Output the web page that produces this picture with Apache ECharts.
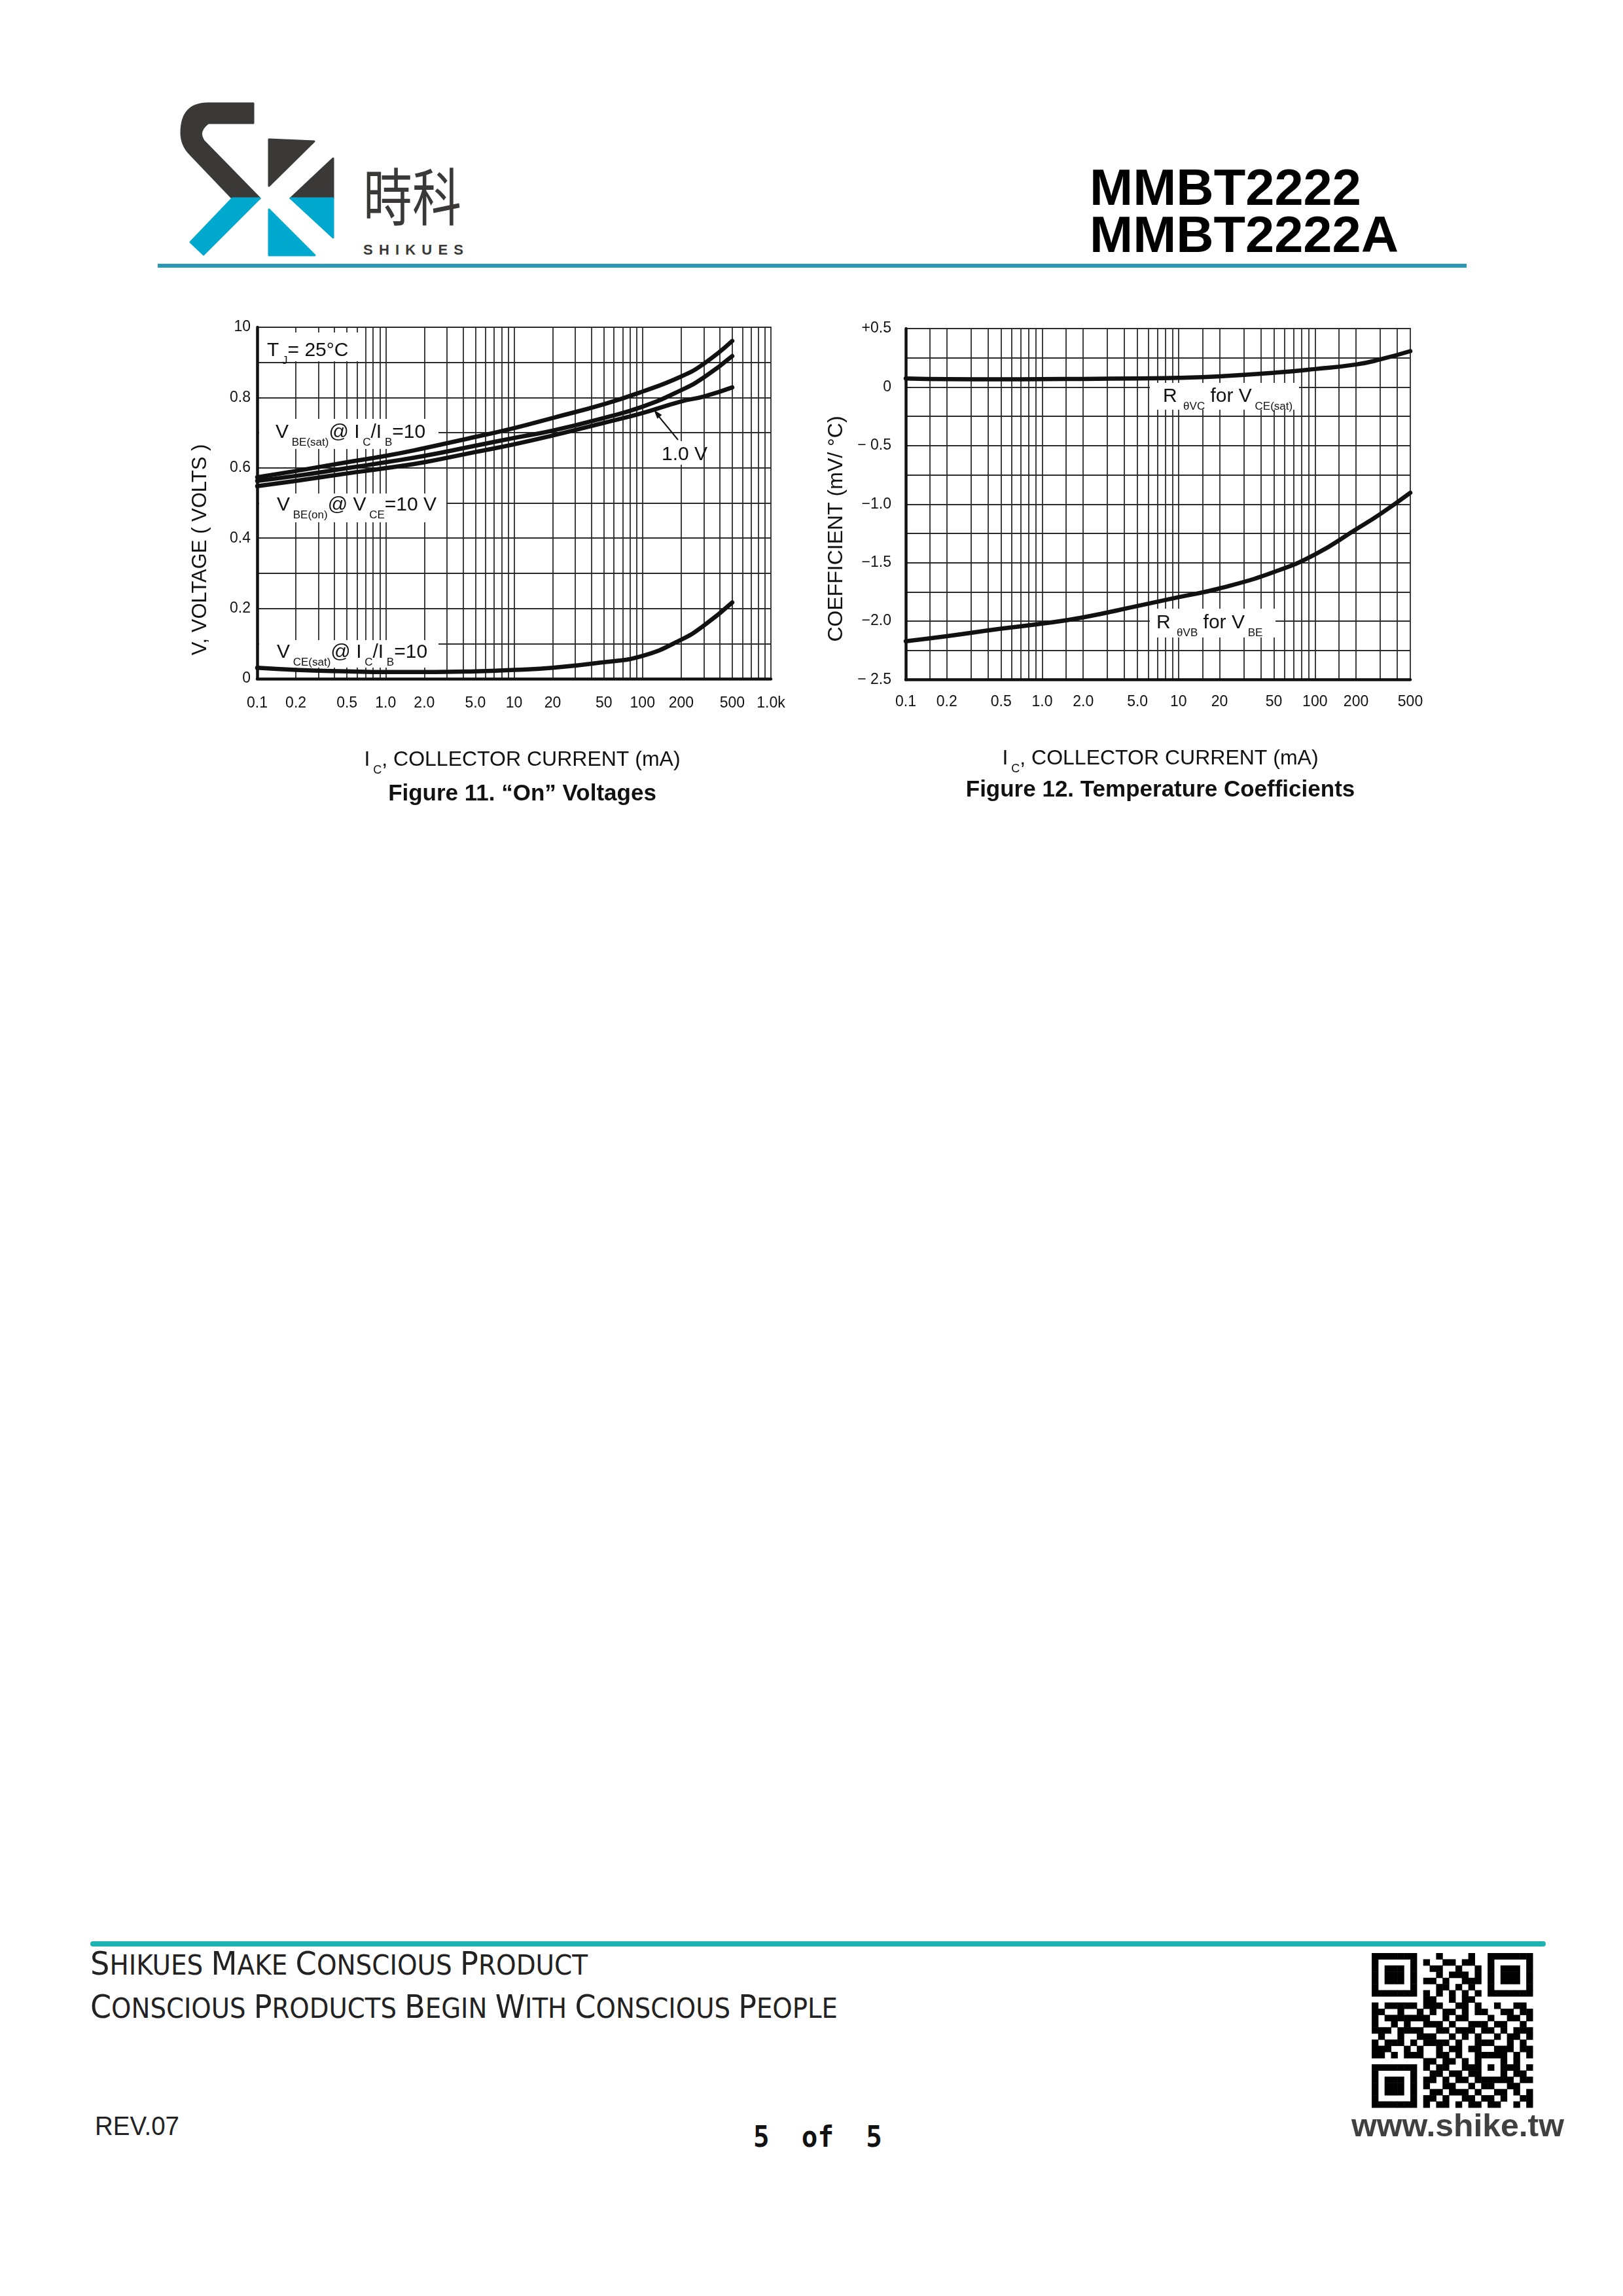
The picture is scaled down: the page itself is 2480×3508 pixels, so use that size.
<!DOCTYPE html>
<html>
<head>
<meta charset="utf-8">
<title>MMBT2222 - Figure 11 / Figure 12</title>
<script src="https://cdn.jsdelivr.net/npm/echarts@6/dist/echarts.min.js"></script>
<style>
  html, body { margin: 0; padding: 0; background: #fff; }
  #page { position: relative; width: 2480px; height: 3508px; overflow: hidden; background: #fff; }
  #deco { position: absolute; left: 0; top: 0; }
  #chart { position: absolute; left: 0; top: 0; width: 2480px; height: 3508px; }
</style>
</head>
<body>
<div id="page">
  <svg id="deco" xmlns="http://www.w3.org/2000/svg" width="2480" height="3508" viewBox="0 0 2480 3508">
    <!-- logo -->
    <g stroke-linejoin="round" stroke-width="3">
      <path d="M387,158 L318,158 Q277,158 277,203 Q277,222 291,236 L355,303 L397,303 L311,215 Q301,201 318,188 L387,188 Z" fill="#3b3838" stroke="#3b3838"/>
      <path d="M355,303 L397,303 L311,389 L291,370 Z" fill="#00a9cd" stroke="#00a9cd"/>
      <path d="M411,213 L480,216 L411,284 Z" fill="#3b3838" stroke="#3b3838"/>
      <path d="M509,242 L444,303 L509,303 Z" fill="#3b3838" stroke="#3b3838"/>
      <path d="M444,303 L509,303 L509,363 Z" fill="#00a9cd" stroke="#00a9cd"/>
      <path d="M411,320 L411,390 L481,390 Z" fill="#00a9cd" stroke="#00a9cd"/>
    </g>
    <text x="555" y="337" font-family="Noto Sans CJK TC" font-size="95" textLength="150" lengthAdjust="spacingAndGlyphs" fill="#3b3838">時科</text>
    <text x="555" y="389" font-family="Liberation Sans" font-weight="700" font-size="22" textLength="153" lengthAdjust="spacing" fill="#3b3838">SHIKUES</text>
    <text x="1665" y="313" font-family="Liberation Sans" font-weight="700" font-size="77" textLength="415" lengthAdjust="spacingAndGlyphs" fill="#000">MMBT2222</text>
    <text x="1665" y="385" font-family="Liberation Sans" font-weight="700" font-size="77" textLength="472" lengthAdjust="spacingAndGlyphs" fill="#000">MMBT2222A</text>
    <rect x="241" y="403" width="2000" height="6" fill="#2a98b8"/>

    <!-- footer -->
    <rect x="138" y="2966" width="2224" height="8" rx="4" fill="#1db3b3"/>
    <text id="motto1" x="138" y="3017" font-family="Liberation Sans Narrow, DejaVu Sans Condensed, sans-serif" textLength="760" lengthAdjust="spacingAndGlyphs" fill="#222"></text>
    <text id="motto2" x="138" y="3083" font-family="Liberation Sans Narrow, DejaVu Sans Condensed, sans-serif" textLength="1142" lengthAdjust="spacingAndGlyphs" fill="#222"></text>
    <text x="145" y="3262" font-family="Liberation Sans" font-size="41" textLength="129" lengthAdjust="spacingAndGlyphs" fill="#222">REV.07</text>
    <text x="1151" y="3280" font-family="DejaVu Sans Mono" font-weight="700" font-size="45" textLength="197" lengthAdjust="spacingAndGlyphs" fill="#111" style="white-space:pre">5  of  5</text>
    <g id="qr" fill="#000"></g>
    <text x="2065" y="3264" font-family="Liberation Sans" font-weight="700" font-size="48" textLength="325" lengthAdjust="spacingAndGlyphs" fill="#404040">www.shike.tw</text>
  </svg>
  <div id="chart"></div>
</div>
<script>
// Figure 11 - "On" voltages, Ic in mA, volts
var icOn = [0.1, 0.2, 0.5, 1, 2, 5, 10, 20, 50, 100, 200, 300, 500];
var vbeSat = [0.573, 0.591, 0.616, 0.634, 0.656, 0.688, 0.713, 0.742, 0.781, 0.817, 0.860, 0.896, 0.961];
var vbeOn1V = [0.563, 0.577, 0.599, 0.616, 0.634, 0.663, 0.685, 0.706, 0.742, 0.774, 0.821, 0.857, 0.918];
var vbeOn10V = [0.548, 0.563, 0.584, 0.599, 0.616, 0.645, 0.667, 0.692, 0.728, 0.756, 0.789, 0.803, 0.829];
var vceSat = [0.031, 0.025, 0.021, 0.019, 0.019, 0.021, 0.025, 0.031, 0.047, 0.065, 0.111, 0.151, 0.217];

// Figure 12 - temperature coefficients, mV/°C
var icTc = [0.1, 0.2, 0.5, 1, 2, 5, 10, 20, 50, 100, 200, 300, 500];
var rThetaVC = [0.074, 0.068, 0.066, 0.068, 0.070, 0.074, 0.079, 0.092, 0.122, 0.154, 0.193, 0.236, 0.307];
var rThetaVB = [-2.171, -2.128, -2.064, -2.021, -1.967, -1.870, -1.795, -1.720, -1.580, -1.430, -1.215, -1.086, -0.903];

// tick labels
var xTicks11 = [0.1, 0.2, 0.5, 1, 2, 5, 10, 20, 50, 100, 200, 500, 1000];
var xTickText11 = ['0.1', '0.2', '0.5', '1.0', '2.0', '5.0', '10', '20', '50', '100', '200', '500', '1.0k'];
var yTickText11 = ['0', '', '0.2', '', '0.4', '', '0.6', '', '0.8', '', '10'];
var xTicks12 = [0.1, 0.2, 0.5, 1, 2, 5, 10, 20, 50, 100, 200, 500];
var xTickText12 = ['0.1', '0.2', '0.5', '1.0', '2.0', '5.0', '10', '20', '50', '100', '200', '500'];
var yTickText12 = ['\u2212 2.5', '', '\u22122.0', '', '\u22121.5', '', '\u22121.0', '', '\u2212 0.5', '', '0', '', '+0.5'];

var qrRows = [
  '1111111000100001001111111',
  '1000001010011011001000001',
  '1011101001100100101011101',
  '1011101000101110101011101',
  '1011101011010011101011101',
  '1000001000110101001000001',
  '1111111010101010101111111',
  '0000000011001011000000000',
  '1011111011100110100100110',
  '1100100101011010110011011',
  '1011111110010110001001101',
  '1001010011101001110110010',
  '1110111100110111011010111',
  '0100100111001010100101101',
  '1011101011110100111001010',
  '1110010100101101100111011',
  '1101011100110100111110101',
  '0000000011011010100010100',
  '1111111010110011101011101',
  '1000001001101101100010110',
  '1011101011010110111111011',
  '1011101010011001011001100',
  '1011101001101110100110101',
  '1000001011010011011010011',
  '1111111010110101101100101'
];

// ---------- page decoration ----------
(function () {
  var g = document.getElementById('qr');
  var qx = 2096, qy = 2984, mw = 246 / 25, mh = 236 / 25, s = '';
  qrRows.forEach(function (row, j) {
    for (var i = 0; i < row.length; i++) {
      if (row[i] === '1') {
        s += '<rect x="' + (qx + i * mw).toFixed(2) + '" y="' + (qy + j * mh).toFixed(2) +
             '" width="' + (mw + 0.5).toFixed(2) + '" height="' + (mh + 0.5).toFixed(2) + '"/>';
      }
    }
  });
  g.innerHTML = s;

  function smallCaps(id, text, big, small) {
    document.getElementById(id).innerHTML = text.split(' ').map(function (w) {
      return '<tspan font-size="' + big + '">' + w[0] + '</tspan><tspan font-size="' + small + '">' + w.slice(1).toUpperCase() + '</tspan>';
    }).join('<tspan font-size="' + small + '"> </tspan>');
  }
  smallCaps('motto1', 'Shikues Make Conscious Product', 50, 42);
  smallCaps('motto2', 'Conscious Products Begin With Conscious People', 50, 42);
})();

// ---------- charts ----------
var INK = '#111';
var GRID = '#2b2b2b';
var FONT = '"Liberation Sans", Arial, Helvetica, sans-serif';

function logGrid(lo, hi, steps) {
  var out = [];
  for (var d = lo; d < hi; d *= 10) {
    steps.forEach(function (m) {
      var v = m * d;
      if (v > lo * 1.0001 && v < hi * 0.9999) out.push(Math.log10(v));
    });
  }
  return out;
}

function tickFmt(ticks, texts) {
  return function (v) {
    for (var i = 0; i < ticks.length; i++) {
      if (Math.abs(Math.log10(ticks[i]) - v) < 1e-6) return texts[i];
    }
    return '';
  };
}

function xAxisCfg(gridIndex, ticks, texts, maxVal, gridSteps, margin) {
  return {
    type: 'value', gridIndex: gridIndex,
    min: Math.log10(0.1), max: Math.log10(maxVal),
    axisLine: { show: true, onZero: false, lineStyle: { color: INK, width: 4.5 } },
    axisTick: { show: false, customValues: logGrid(0.1, maxVal, gridSteps) },
    splitLine: { show: true, lineStyle: { color: GRID, width: 1.8 } },
    axisLabel: {
      customValues: ticks.map(function (t) { return Math.log10(t); }),
      formatter: tickFmt(ticks, texts),
      color: INK, fontFamily: FONT, fontSize: 23, margin: margin,
      showMinLabel: true, showMaxLabel: true, hideOverlap: false
    }
  };
}

function curve(idx, xs, ys) {
  return {
    type: 'line', xAxisIndex: idx, yAxisIndex: idx,
    data: xs.map(function (c, i) { return [Math.log10(c), ys[i]]; }),
    smooth: 0.5, symbol: 'none', showSymbol: false,
    lineStyle: { color: INK, width: 6.5, cap: 'round', join: 'round' }, z: 5, silent: true
  };
}

var rich = {
  m: { fontSize: 30, fontFamily: FONT, fill: INK, lineHeight: 48 },
  s: { fontSize: 17, fontFamily: FONT, fill: INK, lineHeight: 18, verticalAlign: 'bottom' },
  M: { fontSize: 32, fontFamily: FONT, fill: INK, lineHeight: 50 },
  S: { fontSize: 18, fontFamily: FONT, fill: INK, lineHeight: 19, verticalAlign: 'bottom' }
};

function whiteBox(x, y, w, h) {
  return { type: 'rect', z: 1, silent: true, shape: { x: x, y: y, width: w, height: h }, style: { fill: '#fff' } };
}
function richText(x, y, text, align) {
  return {
    type: 'text', z: 6, silent: true, x: x, y: y,
    style: { text: text, rich: rich, fontFamily: FONT, fill: INK, align: align || 'left', verticalAlign: 'top' }
  };
}
function plainText(x, y, text, size, weight, rotation) {
  return {
    type: 'text', z: 6, silent: true, x: x, y: y, rotation: rotation || 0,
    style: { text: text, fontFamily: FONT, fontSize: size, fontWeight: weight || 'normal', fill: INK, align: 'center', verticalAlign: 'middle' }
  };
}

var chart = echarts.init(document.getElementById('chart'), null, { renderer: 'canvas' });

chart.setOption({
  backgroundColor: 'transparent',
  animation: false,
  grid: [
    { left: 393, top: 500, width: 785, height: 537, show: true, borderColor: GRID, borderWidth: 1.8, outerBoundsMode: 'none' },
    { left: 1384, top: 502, width: 771, height: 536.5, show: true, borderColor: GRID, borderWidth: 1.8, outerBoundsMode: 'none' }
  ],
  xAxis: [
    xAxisCfg(0, xTicks11, xTickText11, 1000, [1, 2, 3, 4, 5, 6, 7, 8, 9], 26),
    xAxisCfg(1, xTicks12, xTickText12, 500, [1, 1.5, 2, 3, 4, 5, 6, 7, 8, 9], 23)
  ],
  yAxis: [
    {
      type: 'value', gridIndex: 0, min: 0, max: 1, interval: 0.1,
      axisLine: { show: true, onZero: false, lineStyle: { color: INK, width: 4.5 } },
      axisTick: { show: false },
      splitLine: { show: true, lineStyle: { color: GRID, width: 1.8 } },
      axisLabel: {
        formatter: function (v) { return yTickText11[Math.round(v * 10)]; },
        color: INK, fontFamily: FONT, fontSize: 23, margin: 10
      }
    },
    {
      type: 'value', gridIndex: 1, min: -2.5, max: 0.5, interval: 0.25,
      axisLine: { show: true, onZero: false, lineStyle: { color: INK, width: 4.5 } },
      axisTick: { show: false },
      splitLine: { show: true, lineStyle: { color: GRID, width: 1.8 } },
      axisLabel: {
        formatter: function (v) { return yTickText12[Math.round((v + 2.5) / 0.25)]; },
        color: INK, fontFamily: FONT, fontSize: 23, margin: 22
      }
    }
  ],
  series: [
    curve(0, icOn, vbeSat),
    curve(0, icOn, vbeOn1V),
    curve(0, icOn, vbeOn10V),
    curve(0, icOn, vceSat),
    curve(1, icTc, rThetaVC),
    curve(1, icTc, rThetaVB)
  ],
  graphic: { elements: [
    // figure 11 labels
    whiteBox(396, 508, 162, 44),
    richText(408, 511.5, '{m|T}{s| J}{m|= 25°C}'),
    whiteBox(396, 640, 274, 46),
    richText(421, 636.5, '{m|V}{s| BE(sat)}{m|@ I}{s| C}{m|/I}{s| B}{m|=10}'),
    whiteBox(396, 754, 286, 44),
    richText(423, 747.5, '{m|V}{s| BE(on)}{m|@ V}{s| CE}{m|=10 V}'),
    whiteBox(396, 978, 274, 42),
    richText(423, 972.5, '{m|V}{s| CE(sat)}{m|@ I}{s| C}{m|/I}{s| B}{m|=10}'),
    whiteBox(1003, 674, 72, 36),
    richText(1011, 670.5, '{m|1.0 V}'),
    { type: 'line', z: 6, silent: true, shape: { x1: 1036, y1: 672, x2: 1004, y2: 633 }, style: { stroke: INK, lineWidth: 2 } },
    { type: 'polygon', z: 6, silent: true, shape: { points: [[999, 626], [1011.4, 633.9], [1004.4, 639.7]] }, style: { fill: INK } },
    richText(798, 1136, '{M|I}{S| C}{M|, COLLECTOR CURRENT (mA)}', 'center'),
    plainText(798, 1213, 'Figure 11. \u201cOn\u201d Voltages', 35, 'bold'),
    plainText(306, 840, 'V, VOLTAGE ( VOLTS )', 31, 'normal', Math.PI / 2),

    // figure 12 labels
    whiteBox(1757, 585, 228, 41),
    richText(1777, 581.5, '{m|R}{s|  \u03b8VC}{m| for V}{s| CE(sat)}'),
    whiteBox(1757, 930, 192, 44),
    richText(1767, 927.5, '{m|R}{s|  \u03b8VB}{m| for V}{s| BE}'),
    richText(1773, 1134, '{M|I}{S| C}{M|, COLLECTOR CURRENT (mA)}', 'center'),
    plainText(1773, 1207, 'Figure 12. Temperature Coefficients', 35, 'bold'),
    plainText(1278, 808, 'COEFFICIENT (mV/ °C)', 32, 'normal', Math.PI / 2)
  ] }
});
</script>
</body>
</html>
